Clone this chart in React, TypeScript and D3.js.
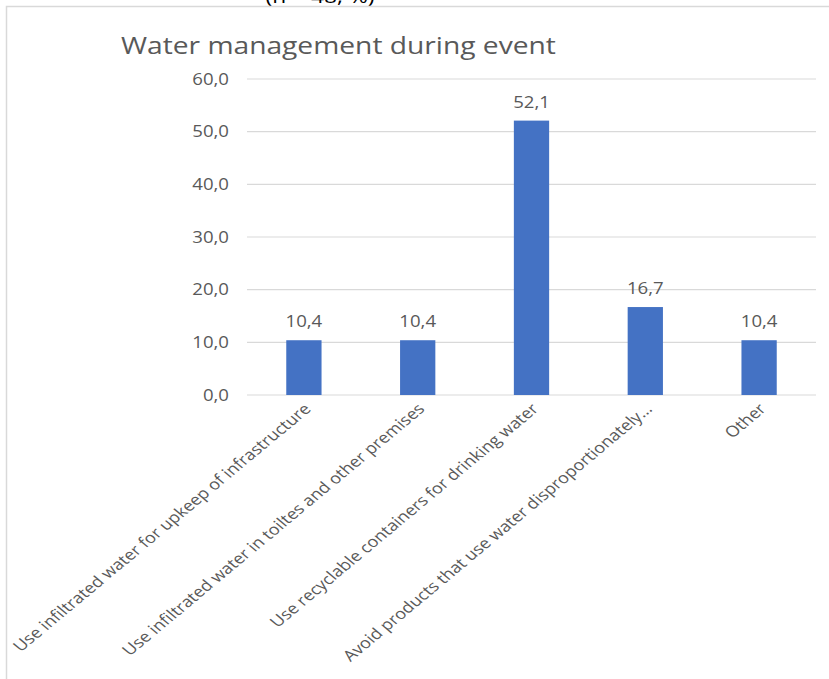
import React from "react";
import * as d3 from "d3";

const categories = [
  "Use infiltrated water for upkeep of infrastructure",
  "Use infiltrated water in toiltes and other premises",
  "Use recyclable containers for drinking water",
  "Avoid products that use water disproportionately…",
  "Other",
];
const values = [10.4, 10.4, 52.1, 16.7, 10.4];
const yTicks = [0, 10, 20, 30, 40, 50, 60];
const title = "Water management during event";
const caption = "(n = 48, %)";

const W = 829;
const H = 679;
const left = 247;
const right = 816;
const top = 79;
const bottom = 395;
const SX = 1.2;

const fmt = (v: number) => v.toFixed(1).replace(".", ",");

export default function App() {
  const x = d3.scaleBand<string>().domain(categories).range([left, right]).paddingInner(0.69).paddingOuter(0.345);
  const y = d3.scaleLinear().domain([0, 60]).range([bottom, top]);
  const font = "'Open Sans', 'Noto Sans', sans-serif";
  const grey = "#595959";
  return (
    <svg width={W} height={H} style={{ position: "absolute", left: 0, top: 0, background: "#fff" }} fontFamily={font}>
      <rect x={0} y={0} width={W} height={H} fill="#fff" />
      <text transform={`translate(320,3) scale(${SX},1)`} fontSize={19} fill="#000" textAnchor="middle">{caption}</text>
      <rect x={6.5} y={6.5} width={W} height={H} fill="#fff" stroke="#d9d9d9" strokeWidth={1.5} />
      <text transform={`translate(121,54) scale(${SX},1)`} fontSize={23.5} fill={grey}>{title}</text>
      {yTicks.map((t) => (
        <g key={t}>
          <line x1={left} x2={right} y1={y(t)} y2={y(t)} stroke="#d9d9d9" strokeWidth={1.2} />
          <text transform={`translate(229,${y(t) + 5.5}) scale(${SX},1)`} fontSize={15.5} fill={grey} textAnchor="end">{fmt(t)}</text>
        </g>
      ))}
      {categories.map((c, i) => {
        const bx = x(c)!;
        const cx = bx + x.bandwidth() / 2;
        return (
          <g key={c}>
            <rect x={bx} y={y(values[i])} width={x.bandwidth()} height={bottom - y(values[i])} fill="#4472c4" />
            <text
              transform={`translate(${cx},${y(values[i]) - 13}) scale(${SX},1)`}
              fontSize={15.5}
              fill={grey}
              textAnchor="middle"
            >
              {fmt(values[i])}
            </text>
            <text
              transform={`translate(${cx + 8},${bottom + 15}) scale(${SX},1) rotate(-45)`}
              fontSize={15.1}
              fill={grey}
              textAnchor="end"
            >
              {c}
            </text>
          </g>
        );
      })}
    </svg>
  );
}
